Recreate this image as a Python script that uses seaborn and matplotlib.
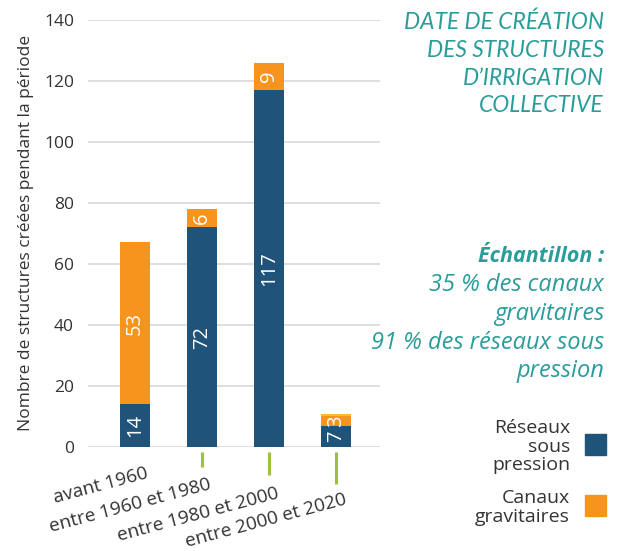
import matplotlib
matplotlib.use("Agg")
import matplotlib.pyplot as plt
import matplotlib.patches as mpatches
import matplotlib.transforms as mtransforms
import seaborn as sns
import pandas as pd

# ── Data ─────────────────────────────────────────────────────────────────────
periods = ["avant 1960", "entre 1960 et 1980", "entre 1980 et 2000", "entre 2000 et 2020"]
reseaux = [14, 72, 117, 7]      # réseaux sous pression
canaux = [53, 6, 9, 3]          # canaux gravitaires
autres = [0, 0, 0, 0.8]         # petit reste (bande jaune)

title_lines = ["DATE DE CRÉATION", "DES STRUCTURES", "D’IRRIGATION", "COLLECTIVE"]
note_lines = ["35 % des canaux", "gravitaires", "91 % des réseaux sous", "pression"]

BLUE = "#1F5379"
ORANGE = "#F7941E"
YELLOW = "#FBBA2E"
TEAL = "#2A9D9A"
DARK = "#333333"
W, H = 623, 551

sns.set_theme(style="white")
plt.rcParams["font.family"] = ["Open Sans", "DejaVu Sans"]

df = pd.DataFrame({"period": periods, "reseaux": reseaux, "canaux": canaux, "autres": autres})
df["c1"] = df["reseaux"] + df["canaux"]
df["c2"] = df["c1"] + df["autres"]

fig = plt.figure(figsize=(W / 100, H / 100), dpi=100)
ax = fig.add_axes([0.141, 0.189, 0.469, 0.775])


def ftext(x_px, base_px, s, **kw):
    # place a line of text by its baseline, in pixels from top-left
    fig.text(x_px / W, 1 - base_px / H, s, va="baseline", **kw)


# stacked bars, drawn back to front
for col, color in [("c2", YELLOW), ("c1", ORANGE), ("reseaux", BLUE)]:
    sns.barplot(data=df, x="period", y=col, order=periods, color=color,
                width=0.45, saturation=1, edgecolor="none", errorbar=None, ax=ax)

# value labels inside segments
for i, (b, o) in enumerate(zip(reseaux, canaux)):
    ax.text(i, b / 2, str(b), rotation=90, ha="center", va="center",
            color="white", fontsize=14.5)
    ax.text(i, b + o / 2, str(o), rotation=90, ha="center", va="center",
            color="white", fontsize=14.5)

ax.set_ylim(0, 140)
ax.set_xlim(-0.70, 3.66)
ax.set_yticks(range(0, 141, 20))
ax.yaxis.grid(True, color="#D9D9D9", linewidth=1.2)
ax.set_axisbelow(True)
for s in ax.spines.values():
    s.set_visible(False)
ax.tick_params(axis="y", length=0, pad=10, labelsize=12.5, labelcolor=DARK)
ax.tick_params(axis="x", length=0, pad=0, labelsize=13.7, labelcolor=DARK)
ax.set_xlabel("")
ax.set_ylabel("Nombre de structures créées pendant la période", fontsize=12.5,
              color=DARK, labelpad=7)
plt.setp(ax.get_xticklabels(), rotation=15, ha="right", va="top", rotation_mode="anchor")

# green leader lines under categories 2-4
for i, ln in zip([1, 2, 3], [5, 7.5, 10.5]):
    ax.plot([i, i], [-1.6, -1.6 - ln], color="#9DC03A", linewidth=2.2,
            clip_on=False, solid_capstyle="butt")

# tick labels step down below the leader lines
for lab, dx, dy in zip(ax.get_xticklabels(), [0.11, 0.06, 0.07, 0.08],
                       [0.17, 0.29, 0.38, 0.44]):
    lab.set_transform(lab.get_transform() +
                      mtransforms.ScaledTranslation(dx, -dy, fig.dpi_scale_trans))

# ── Title & notes ────────────────────────────────────────────────────────────
for line, base in zip(title_lines, [29, 57, 85, 112]):
    ftext(604, base, line, ha="right", color=TEAL, fontsize=16.4,
          style="italic", family=["Lato", "DejaVu Sans"])
ftext(604, 262, "Échantillon :", ha="right", color=TEAL, fontsize=15.5,
      style="italic", fontweight="bold")
for line, base in zip(note_lines, [291, 320, 349, 377]):
    ftext(604, base, line, ha="right", color=TEAL, fontsize=17, style="italic")

# ── Legend ───────────────────────────────────────────────────────────────────
for line, base in zip(["Réseaux", "sous", "pression"], [433, 452, 470]):
    ftext(570, base, line, ha="right", color=DARK, fontsize=14)
for line, base in zip(["Canaux", "gravitaires"], [503, 522]):
    ftext(570, base, line, ha="right", color=DARK, fontsize=14)
for color, top in [(BLUE, 434), (ORANGE, 495)]:
    fig.patches.append(mpatches.Rectangle((585 / W, 1 - (top + 21) / H), 21 / W, 21 / H,
                                          color=color, transform=fig.transFigure,
                                          figure=fig))

fig.savefig("out.png", dpi=100)
